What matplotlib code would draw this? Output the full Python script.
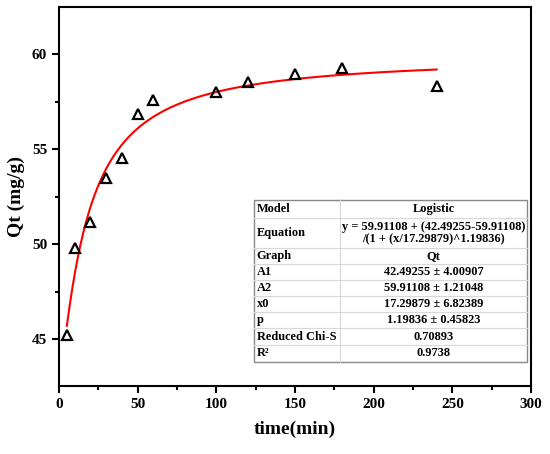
import numpy as np
import matplotlib
matplotlib.use("Agg")
import matplotlib.pyplot as plt
from matplotlib.ticker import MultipleLocator
from matplotlib.patches import Rectangle

plt.rcParams['font.family'] = ['Liberation Serif', 'DejaVu Serif']
plt.rcParams['font.weight'] = 'bold'

# data
time_min = [5, 10, 20, 30, 40, 50, 60, 100, 120, 150, 180, 240]
qt = [45.2, 49.8, 51.17, 53.46, 54.54, 56.83, 57.58, 58.0, 58.54, 58.95, 59.28, 58.33]

# logistic fit parameters (from table)
A1, A2, x0, p = 42.49255, 59.91108, 17.29879, 1.19836

table_rows = [
    ("Model", "Logistic"),
    ("Equation", "y = 59.91108 + (42.49255-59.91108)\n/(1 + (x/17.29879)^1.19836)"),
    ("Graph", "Qt"),
    ("A1", "42.49255 \u00b1 4.00907"),
    ("A2", "59.91108 \u00b1 1.21048"),
    ("x0", "17.29879 \u00b1 6.82389"),
    ("p", "1.19836 \u00b1 0.45823"),
    ("Reduced Chi-S", "0.70893"),
    ("R\u00b2", "0.9738"),
]

fig = plt.figure(figsize=(5.5, 4.54), dpi=100)
ax = fig.add_axes([0.1073, 0.1498, 0.8582, 0.8348])

xf = np.linspace(min(time_min), max(time_min), 400)
yf = A2 + (A1 - A2) / (1 + (xf / x0) ** p)
ax.plot(xf, yf, color='red', lw=1.5, zorder=2)
ax.plot(time_min, qt, linestyle='none', marker='^', markersize=7,
        markerfacecolor='none', markeredgecolor='black', markeredgewidth=1.6, zorder=3)

ax.set_xlim(0, 300)
ax.set_ylim(42.53, 62.49)
ax.xaxis.set_major_locator(MultipleLocator(50))
ax.xaxis.set_minor_locator(MultipleLocator(25))
ax.yaxis.set_major_locator(MultipleLocator(5))
ax.yaxis.set_minor_locator(MultipleLocator(2.5))
ax.tick_params(which='both', direction='out', top=False, right=False, width=1.5)
ax.tick_params(which='major', length=5, labelsize=11)
ax.tick_params(which='minor', length=3)
for lab in ax.get_xticklabels() + ax.get_yticklabels():
    lab.set_fontweight('bold')
for s in ax.spines.values():
    s.set_linewidth(1.5)

ax.set_xlabel("time(min)", fontsize=14, fontweight='bold', labelpad=7)
ax.set_ylabel("Qt (mg/g)", fontsize=14, fontweight='bold', labelpad=5)

# table drawn in pixel-like axes coordinates
def px_to_ax(xp, yp):
    return ((xp - 59) / 472.0, (386 - yp) / 379.0)

left, mid, right = 254, 340, 527
bounds = [200, 217.7, 248.3, 264.3, 280, 296, 311.7, 328.3, 345, 361.7]

lx, ty = px_to_ax(left, bounds[0])
rx, by = px_to_ax(right, bounds[-1])
ax.add_patch(Rectangle((lx, by), rx - lx, ty - by, transform=ax.transAxes,
                       facecolor='white', edgecolor='#888888', lw=1.0, zorder=4))
mx, _ = px_to_ax(mid, 0)
ax.plot([mx, mx], [by, ty], transform=ax.transAxes, color='#d8d8d8', lw=0.8, zorder=5)
for b in bounds[1:-1]:
    _, yy = px_to_ax(0, b)
    ax.plot([lx, rx], [yy, yy], transform=ax.transAxes, color='#d8d8d8', lw=0.8, zorder=5)

for i, (k, v) in enumerate(table_rows):
    _, y0 = px_to_ax(0, bounds[i])
    _, y1 = px_to_ax(0, bounds[i + 1])
    yc = (y0 + y1) / 2
    ax.text(lx + 0.006, yc, k, transform=ax.transAxes, ha='left', va='center',
            fontsize=8.9, fontweight='bold', zorder=6)
    ax.text((mx + rx) / 2, yc, v, transform=ax.transAxes, ha='center', va='center',
            fontsize=8.9, fontweight='bold', zorder=6, linespacing=1.1)

fig.savefig("out.png", dpi=100)
